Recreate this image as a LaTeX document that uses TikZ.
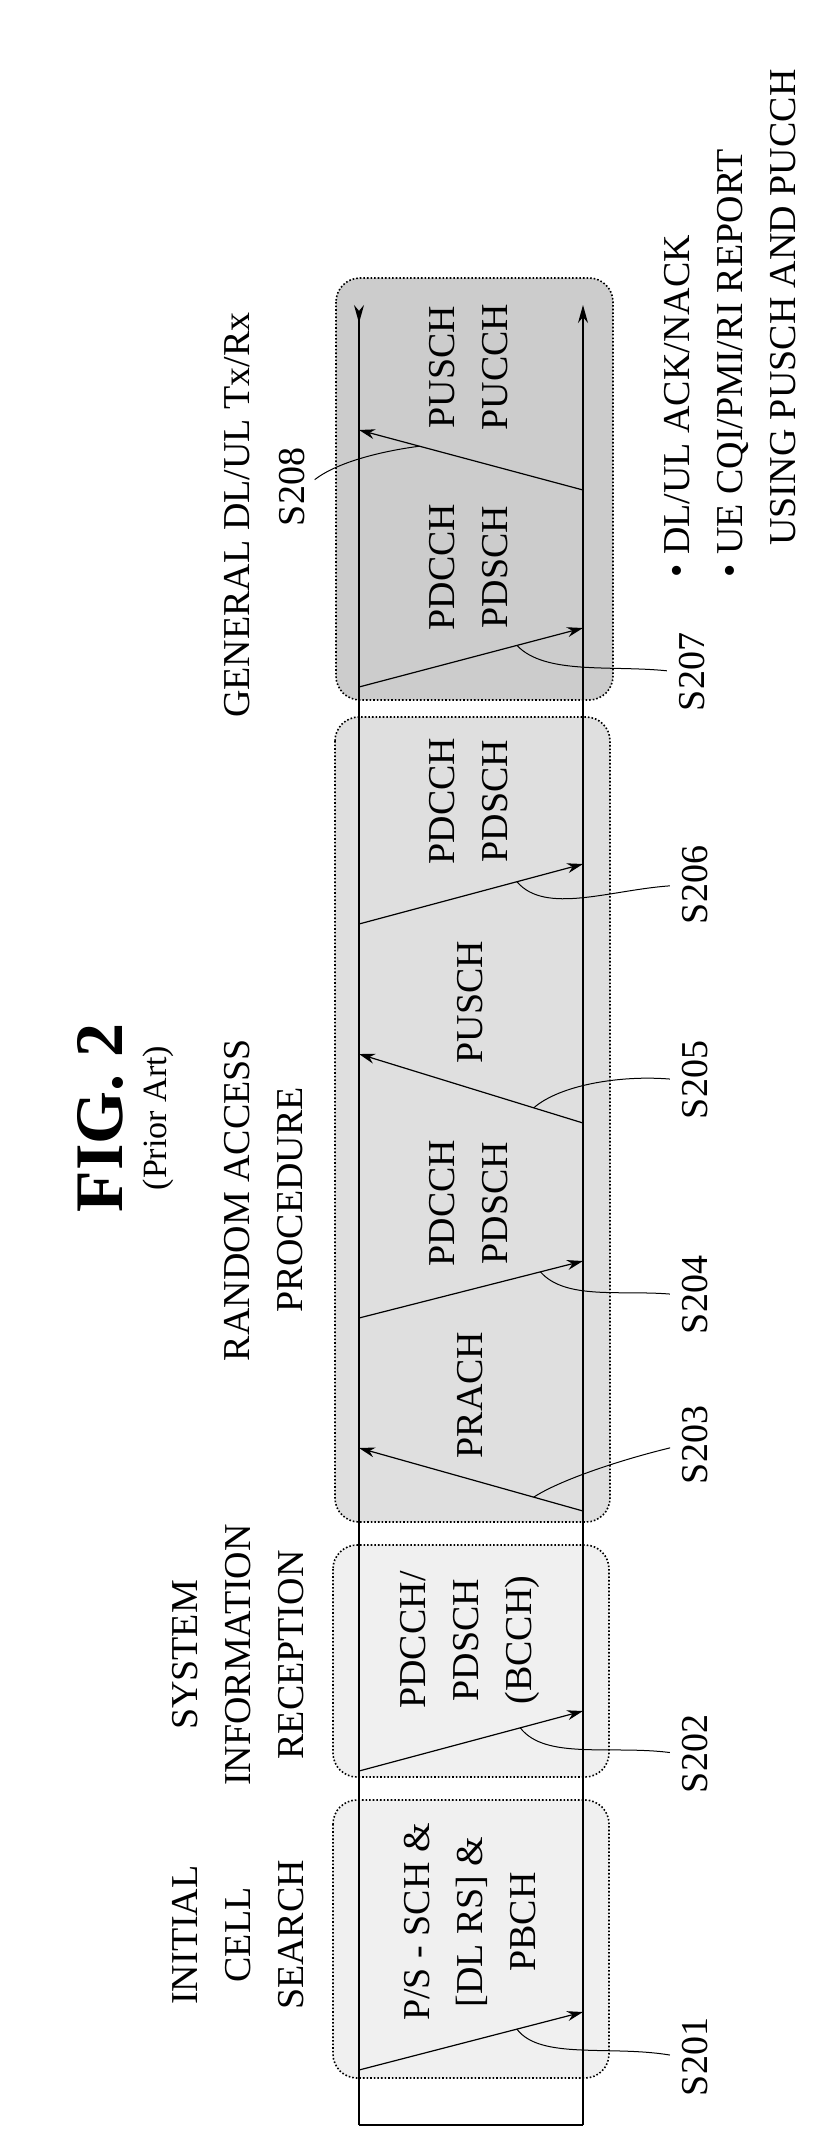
\documentclass[tikz,border=0pt]{standalone}
\usepackage{fontspec}
\setmainfont{Liberation Serif}
\usetikzlibrary{arrows.meta,calc,positioning}

\tikzset{
  lbl/.style={rotate=90,align=center,inner sep=0pt,font=\fontsize{19}{26.5}\selectfont},
  phase/.style={draw,densely dotted,rounded corners=12pt,line width=0.8pt},
  sig/.style={-{Stealth[length=8pt,width=5pt]},line width=0.6pt},
  lead/.style={line width=0.5pt,shorten >=6pt}
}

\begin{document}
\begin{tikzpicture}[x=0.5pt,y=-0.5pt]
\useasboundingbox (0,0) rectangle (839,2148);

%Shape: phase boxes
\draw [phase,fill=gray!12] (333,1800) rectangle (609,2078);
\draw [phase,fill=gray!12] (333,1545) rectangle (609,1777);
\draw [phase,fill=gray!25] (335,717) rectangle (610,1522);
\draw [phase,fill=gray!40] (336,278) rectangle (613,700);

%Lines: time axes
\coordinate (lb) at (359,2125);
\coordinate (lt) at (359,305);
\coordinate (rb) at (583,2125);
\coordinate (rt) at (583,305);
\draw [line width=0.7pt,-{Stealth[length=9pt,width=5pt,reversed]}] (lb) -- (lt);
\draw [line width=0.7pt,-{Stealth[length=9pt,width=5pt]}] (rb) -- (rt);
\draw [line width=0.7pt] (lb) -- (rb);

%Signals
\coordinate (a1) at (359,2070); \coordinate (b1) at (583,2012);
\coordinate (a2) at (359,1771); \coordinate (b2) at (583,1711);
\coordinate (a3) at (583,1511); \coordinate (b3) at (359,1448);
\coordinate (a4) at (359,1318); \coordinate (b4) at (583,1261);
\coordinate (a5) at (583,1123); \coordinate (b5) at (359,1054);
\coordinate (a6) at (359,924);  \coordinate (b6) at (583,864);
\coordinate (a7) at (359,687);  \coordinate (b7) at (583,628);
\coordinate (a8) at (583,490);  \coordinate (b8) at (359,430);
\foreach \i in {1,...,8}
  \draw [sig] (a\i) -- (b\i);

% Text Node: step labels
\node [lbl] (s201) at (695,2057) {S201};
\node [lbl] (s202) at (695,1754) {S202};
\node [lbl] (s203) at (695,1445) {S203};
\node [lbl] (s204) at (695,1295) {S204};
\node [lbl] (s205) at (695,1080) {S205};
\node [lbl] (s206) at (695,885) {S206};
\node [lbl] (s207) at (692,672) {S207};
\node [lbl] (s208) at (292,487) {S208};

%Lead lines
\draw [lead] ($(a1)!0.705!(b1)$) .. controls (540,2060) and (610,2045) .. (s201.north);
\draw [lead] ($(a2)!0.72!(b2)$) .. controls (545,1760) and (610,1745) .. (s202.north);
\draw [lead] ($(a3)!0.22!(b3)$) .. controls (560,1480) and (620,1460) .. (s203.north);
\draw [lead] ($(a4)!0.81!(b4)$) .. controls (565,1300) and (620,1290) .. (s204.north);
\draw [lead] ($(a5)!0.22!(b5)$) .. controls (560,1085) and (620,1075) .. (s205.north);
\draw [lead] ($(a6)!0.705!(b6)$) .. controls (545,915) and (610,890) .. (s206.north);
\draw [lead] ($(a7)!0.705!(b7)$) .. controls (545,675) and (610,665) .. (s207.north);
\draw [lead] ($(a8)!0.73!(b8)$) .. controls (390,450) and (340,460) .. (s208.south);

% Text Node: channels
\node [lbl] (ch1) at (470,1922) {P/S - SCH \&\\{[DL RS] \&}\\PBCH};
\node [lbl] (ch2) at (470,1640) {PDCCH/\\PDSCH\\(BCCH)};
\node [lbl] (ch3) at (470,1395) {PRACH};
\node [lbl] (ch4) at (469,1203) {PDCCH\\PDSCH};
\node [lbl] (ch5) at (470,1002) {PUSCH};
\node [lbl] (ch6) at (469,801) {PDCCH\\PDSCH};
\node [lbl] (ch7) at (469,567) {PDCCH\\PDSCH};
\node [lbl] (ch8) at (469,367) {PUSCH\\PUCCH};

% Text Node: phases
\node [lbl] (ph1) at (238,1935) {INITIAL\\CELL\\SEARCH};
\node [lbl] (ph2) at (238,1655) {SYSTEM\\INFORMATION\\RECEPTION};
\node [lbl] (ph3) at (264,1200) {RANDOM ACCESS\\PROCEDURE};
\node [lbl] (ph4) at (237,515) {GENERAL DL/UL Tx/Rx};
\node [lbl,align=left,anchor=north west] (note) at (664,578)
  {• DL/UL ACK/NACK\\• UE CQI/PMI/RI REPORT\\\hspace*{16pt}USING PUSCH AND PUCCH};

% Text Node: title
\node [rotate=90,font=\bfseries\fontsize{34}{34}\selectfont] (fig) at (100,1118) {FIG. 2};
\node [lbl,font=\fontsize{17}{20}\selectfont] (prior) at (158,1118) {(Prior Art)};

\end{tikzpicture}
\end{document}
